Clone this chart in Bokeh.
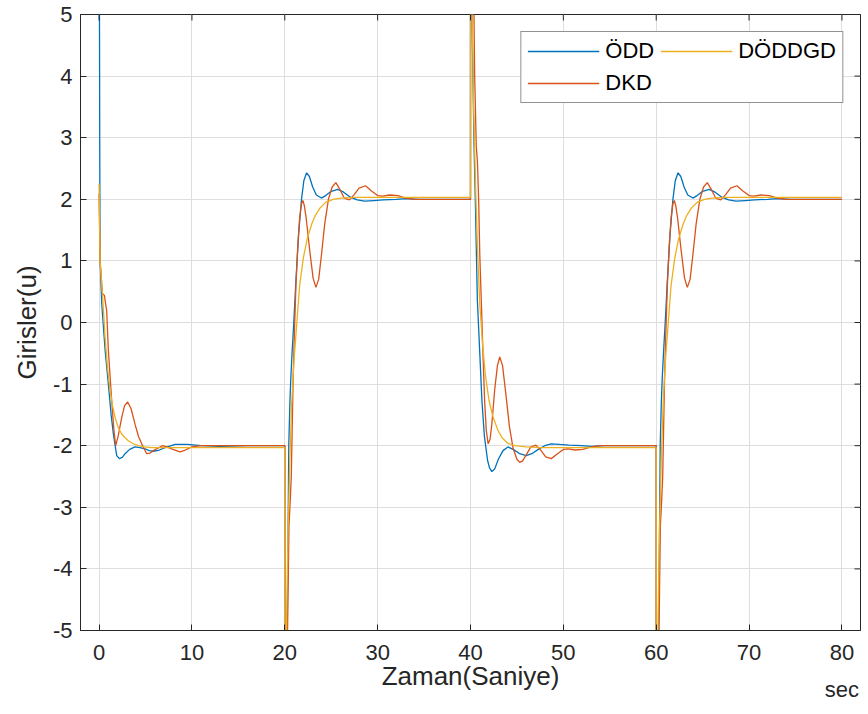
import math
from bokeh.plotting import figure
from bokeh.models import Range1d, FixedTicker, Legend, LegendItem
from bokeh.embed import file_html
from bokeh.resources import INLINE

# ---------------- data ----------------
x_ticks = [0, 10, 20, 30, 40, 50, 60, 70, 80]
y_ticks = [-5, -4, -3, -2, -1, 0, 1, 2, 3, 4, 5]
x_lim = [-2, 82]
y_lim = [-5, 5]
x_unit = "sec"
series_names = ["ÖDD", "DKD", "DÖDDGD"]
series_colors = ["#0072BD", "#D95319", "#EDB120"]
phase_starts = [0, 20, 40, 60]  # reference switches every 20 s

# Phase 0-20 s (initial step to -2)
init_t_odd = [0, 0.03, 0.07, 0.11, 0.29, 0.65, 1.0, 1.3, 1.54, 1.9, 2.19, 2.5, 2.8, 3.3, 3.87,
              4.4, 4.95, 5.4, 5.85, 6.5, 7.1, 8.2, 9.5, 11, 13, 16, 20]
init_u_odd = [14, 6, 3.0, 1.01, 0.3, -0.45, -1.0, -1.5, -1.81, -2.16, -2.21, -2.19, -2.13, -2.06, -2.02,
              -2.03, -2.05, -2.08, -2.09, -2.07, -2.03, -1.98, -1.98, -2.0, -2.01, -2.0, -2.0]
init_t_dkd = [0, 0.11, 0.36, 0.57, 0.82, 1.0, 1.36, 1.6, 1.79, 2.05, 2.44, 2.75, 3.08, 3.45, 3.87,
              4.25, 4.59, 5.13, 5.5, 5.84, 6.81, 7.3, 7.8, 8.71, 9.3, 9.97, 11, 13, 20]
init_u_dkd = [2.09, 1.0, 0.47, 0.44, 0.19, -0.45, -1.27, -1.75, -2.0, -1.85, -1.54, -1.35, -1.29, -1.4, -1.65,
              -1.85, -1.97, -2.13, -2.12, -2.08, -2.0, -2.02, -2.05, -2.1, -2.07, -2.02, -2.0, -2.0, -2.0]
init_t_dgd = [0, 0.11, 0.36, 0.65, 0.9, 1.18, 1.45, 1.72, 2.05, 2.44, 2.8, 3.15, 3.6, 4.2, 4.9, 5.6, 7, 20]
init_u_dgd = [2.25, 1.0, 0.47, -0.24, -0.72, -1.1, -1.35, -1.54, -1.7, -1.81, -1.87, -1.92, -1.96, -2.0,
              -2.02, -2.03, -2.03, -2.03]

# Rising phase (20-40 s and 60-80 s), time relative to the switch
rise_t_odd = [0, 0.01, 0.15, 0.26, 0.35, 0.43, 0.55, 0.65, 0.8, 0.97, 1.2, 1.5, 1.8, 2.05, 2.35, 2.65,
              3.0, 3.4, 3.95, 4.4, 5.0, 5.7, 6.3, 7.0, 7.8, 8.6, 9.6, 10.6, 12, 13, 14.5, 20]
rise_u_odd = [-2.0, -10, -7, -5, -3.5, -2.0, -1.3, -0.9, -0.45, 0.0, 0.68, 1.45, 2.0, 2.3, 2.43, 2.37,
              2.2, 2.07, 2.02, 2.06, 2.13, 2.16, 2.12, 2.04, 1.99, 1.97, 1.98, 1.99, 2.0, 2.01, 2.0, 2.0]
rise_t_dkd = [0, 0.01, 0.2, 0.3, 0.45, 0.6, 0.7, 0.8, 0.9, 1.05, 1.2, 1.4, 1.6, 1.8, 1.95, 2.1, 2.3, 2.7,
              3.05, 3.35, 3.65, 3.95, 4.3, 4.7, 5.1, 5.5, 5.9, 6.4, 6.95, 7.5, 8.0, 8.7, 9.3, 10.0, 10.5,
              11.3, 12.2, 13.0, 14.0, 20]
rise_u_dkd = [-2.0, -10, -7, -5, -3.3, -2.85, -2.5, -1.7, -0.9, -0.1, 0.6, 1.25, 1.7, 1.93, 1.98, 1.9, 1.7,
              1.15, 0.72, 0.57, 0.7, 1.1, 1.6, 2.0, 2.2, 2.27, 2.17, 2.02, 1.99, 2.08, 2.18, 2.22, 2.14,
              2.06, 2.05, 2.07, 2.06, 2.02, 2.0, 2.0]
rise_t_dgd = [0, 0.005, 0.1, 0.2, 0.35, 0.55, 0.75, 1.0, 1.3, 1.6, 2.0, 2.4, 2.9, 3.3, 3.8, 4.4, 5.2, 6.0,
              7.5, 20]
rise_u_dgd = [-2.03, -10, -6.5, -4.8, -3.4, -2.2, -1.3, -0.6, 0.0, 0.6, 1.05, 1.35, 1.6, 1.74, 1.86,
              1.95, 2.0, 2.02, 2.03, 2.03]

# Falling phase (40-60 s), time relative to the switch
fall_t_odd = [0, 0.01, 0.1, 0.16, 0.37, 0.52, 0.74, 1.0, 1.23, 1.5, 1.84, 2.05, 2.3, 2.6, 3.0, 3.5, 4.03,
              4.6, 5.3, 6.0, 6.6, 7.3, 8.0, 8.7, 9.6, 10.6, 12, 13, 14.5, 20]
fall_u_odd = [2.0, 10, 6.5, 5.0, 2.95, 1.98, 0.36, -0.5, -1.27, -1.85, -2.24, -2.36, -2.42, -2.38, -2.22,
              -2.08, -2.02, -2.06, -2.13, -2.16, -2.13, -2.06, -2.0, -1.97, -1.98, -1.99, -2.0, -2.01,
              -2.0, -2.0]
fall_t_dkd = [0, 0.01, 0.3, 0.45, 0.62, 0.75, 0.88, 1.0, 1.16, 1.34, 1.52, 1.7, 1.9, 2.1, 2.3, 2.6, 2.9,
              3.15, 3.45, 3.8, 4.2, 4.6, 5.0, 5.3, 5.6, 6.0, 6.5, 7.05, 7.6, 8.1, 8.7, 9.3, 10.0, 10.5,
              11.3, 12.1, 13.0, 14.0, 20]
fall_u_dkd = [2.0, 10, 6, 4.0, 2.87, 2.6, 1.98, 1.1, 0.36, -0.5, -1.27, -1.75, -1.97, -1.9, -1.65, -1.1,
              -0.7, -0.56, -0.7, -1.15, -1.7, -2.05, -2.22, -2.27, -2.25, -2.15, -2.02, -1.99, -2.08,
              -2.18, -2.21, -2.14, -2.06, -2.05, -2.07, -2.06, -2.02, -2.0, -2.0]
fall_t_dgd = [0, 0.005, 0.1, 0.2, 0.35, 0.55, 0.75, 1.0, 1.3, 1.6, 2.0, 2.4, 2.95, 3.4, 4.0, 4.8, 6.0,
              7.5, 20]
fall_u_dgd = [2.03, 10, 6.5, 4.8, 3.4, 2.2, 1.2, 0.3, -0.35, -0.85, -1.27, -1.52, -1.75, -1.87, -1.96,
              -2.0, -2.02, -2.03, -2.03]


def assemble(init_t, init_u, rise_t, rise_u, fall_t, fall_u):
    phases = [(init_t, init_u), (rise_t, rise_u), (fall_t, fall_u), (rise_t, rise_u)]
    ts, us = [], []
    for start, (pt, pu) in zip(phase_starts, phases):
        ts += [start + v for v in pt]
        us += list(pu)
    return ts, us


curves = [
    assemble(init_t_odd, init_u_odd, rise_t_odd, rise_u_odd, fall_t_odd, fall_u_odd),
    assemble(init_t_dkd, init_u_dkd, rise_t_dkd, rise_u_dkd, fall_t_dkd, fall_u_dkd),
    assemble(init_t_dgd, init_u_dgd, rise_t_dgd, rise_u_dgd, fall_t_dgd, fall_u_dgd),
]

# ---------------- figure ----------------
FONT = "Liberation Sans"
TXT = "#262626"

p = figure(frame_width=780, frame_height=616, output_backend="svg", toolbar_location=None,
           x_range=Range1d(*x_lim), y_range=Range1d(*y_lim),
           min_border_left=80, min_border_right=8, min_border_top=14, min_border_bottom=84)
p.background_fill_color = "white"
p.border_fill_color = "white"
p.outline_line_color = TXT
p.outline_line_width = 1

for ax, ticks in ((p.xaxis[0], x_ticks), (p.yaxis[0], y_ticks)):
    ax.ticker = FixedTicker(ticks=ticks)
    ax.major_label_overrides = {t: str(t) for t in ticks}
    ax.major_tick_in = 6
    ax.major_tick_out = 0
    ax.minor_tick_line_color = None
    ax.axis_line_color = TXT
    ax.major_tick_line_color = TXT
    ax.major_label_text_font = FONT
    ax.major_label_text_font_size = "22px"
    ax.major_label_text_color = TXT
    ax.axis_label_text_font = FONT
    ax.axis_label_text_font_size = "26px"
    ax.axis_label_text_font_style = "normal"
    ax.axis_label_text_color = TXT

# the unit text of the time axis sits under its last tick label
p.xaxis[0].major_label_overrides = {**{t: str(t) for t in x_ticks},
                                    x_ticks[-1]: f"{x_ticks[-1]}\n{x_unit}"}
p.xaxis.major_label_text_line_height = 1.5
p.xaxis.axis_label = "Zaman(Saniye)"
p.yaxis.axis_label = "Girisler(u)"
p.xaxis.major_label_standoff = 9
p.xaxis.axis_label_standoff = -44
p.yaxis.major_label_standoff = 8
p.yaxis.axis_label_standoff = 8

p.xgrid.ticker = FixedTicker(ticks=x_ticks)
p.ygrid.ticker = FixedTicker(ticks=y_ticks)
p.grid.grid_line_color = "#dedede"
p.grid.grid_line_width = 1

renderers = []
for (ts, us), col in zip(curves, series_colors):
    r = p.line(ts, us, line_color=col, line_width=1.3)
    renderers.append(r)

# inward tick marks on the top and right edges of the box (half of each dash is clipped by the frame)
p.scatter(x=x_ticks, y=[y_lim[1]] * len(x_ticks), marker="dash", size=12, angle=math.pi / 2,
          line_color=TXT, line_width=1)
p.scatter(x=[x_lim[1]] * len(y_ticks), y=y_ticks, marker="dash", size=12,
          line_color=TXT, line_width=1)

legend = Legend(items=[LegendItem(label=n, renderers=[r]) for n, r in zip(series_names, renderers)],
                location="top_right", orientation="vertical", nrows=2,
                margin=17, padding=6, spacing=6,
                glyph_width=72, glyph_height=22, label_height=22, label_standoff=6,
                label_text_font=FONT, label_text_font_size="22px", label_text_color="#000000",
                label_text_line_height=1.1,
                border_line_color=TXT, border_line_width=1, background_fill_color="white",
                background_fill_alpha=1)
p.add_layout(legend, "center")

open("out.html", "w").write(file_html(p, INLINE))
